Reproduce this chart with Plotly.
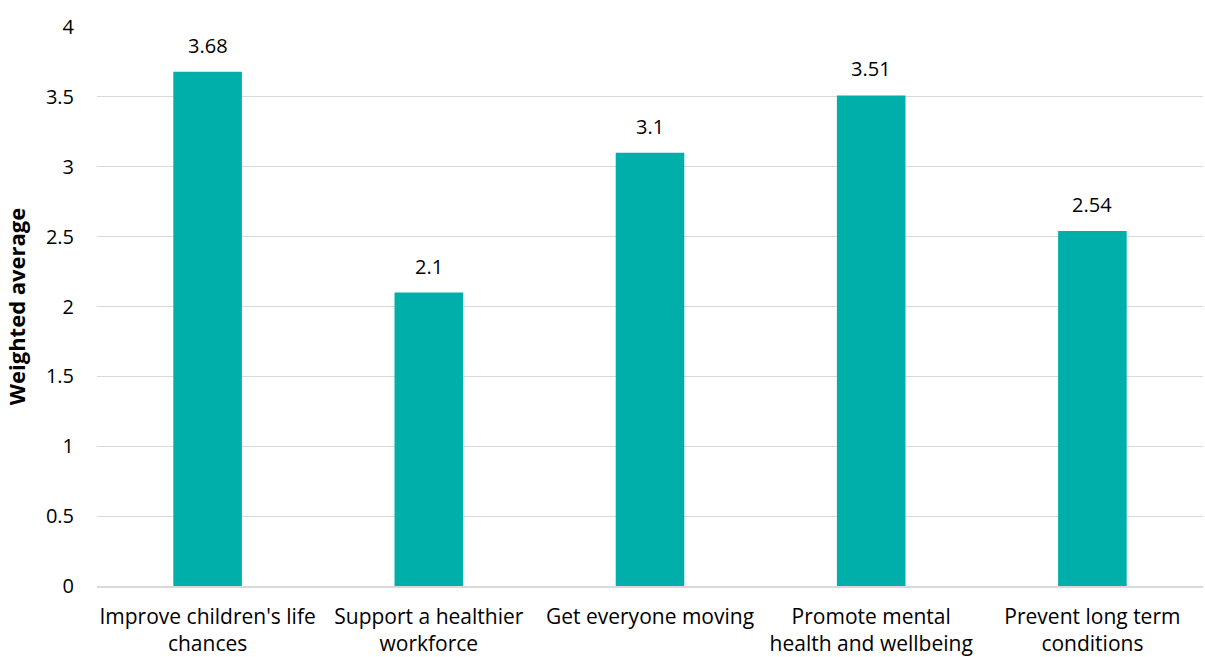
import plotly.graph_objects as go

categories = ["Improve children's life<br>chances", "Support a healthier<br>workforce",
              "Get everyone moving", "Promote mental<br>health and wellbeing",
              "Prevent long term<br>conditions"]
values = [3.68, 2.1, 3.1, 3.51, 2.54]
value_labels = ["3.68", "2.1", "3.1", "3.51", "2.54"]
y_ticks = [0, 0.5, 1, 1.5, 2, 2.5, 3, 3.5, 4]
y_tick_labels = ["0", "0.5", "1", "1.5", "2", "2.5", "3", "3.5", "4"]

FONT = "Open Sans, sans-serif"

fig = go.Figure()
fig.add_trace(go.Bar(x=categories, y=values, marker_color="#00AFAA",
                     marker_line_width=0, hoverinfo="skip"))

for c, v, t in zip(categories, values, value_labels):
    fig.add_annotation(x=c, y=v, text=t, showarrow=False, yanchor="bottom",
                       yshift=11, font=dict(family=FONT, size=20, color="#000000"))

fig.update_layout(
    width=1205, height=657,
    margin=dict(l=97, r=2, t=27, b=71),
    plot_bgcolor="white", paper_bgcolor="white",
    bargap=0.69,
    showlegend=False,
    font=dict(family=FONT, size=20, color="#000000"),
    xaxis=dict(showgrid=False, showline=True, linecolor="#d9d9d9", linewidth=1.5,
               ticks="", tickfont=dict(family=FONT, size=21), ticklabelstandoff=11,
               automargin=False),
    yaxis=dict(range=[0, 4], tickvals=y_ticks, ticktext=y_tick_labels,
               showgrid=True, gridcolor="#d9d9d9", gridwidth=1.3, zeroline=False,
               showline=False, ticks="", ticklabelstandoff=22,
               tickfont=dict(family=FONT, size=20), automargin=False,
               title=dict(text="<b>Weighted average</b>", standoff=14,
                          font=dict(family=FONT, size=22))),
)

fig.write_html("out.html")
